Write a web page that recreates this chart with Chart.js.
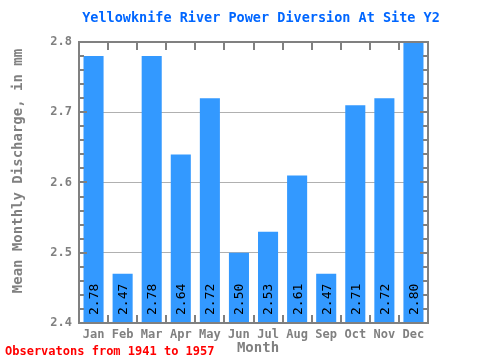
<!DOCTYPE html>
<html>
<head>
<meta charset="utf-8">
<script src="https://cdn.jsdelivr.net/npm/chart.js@4/dist/chart.umd.min.js"></script>
<style>
html,body{margin:0;padding:0;background:#fff;}
#wrap{width:480px;height:360px;position:relative;}
</style>
</head>
<body>
<div id="wrap"><canvas id="c" width="480" height="360"></canvas></div>
<script>
const months = ["Jan","Feb","Mar","Apr","May","Jun","Jul","Aug","Sep","Oct","Nov","Dec"];
const discharge = [2.78,2.47,2.78,2.64,2.72,2.50,2.53,2.61,2.47,2.71,2.72,2.80];
const yMin = 2.4, yMax = 2.8, yStep = 0.1, yMinorStep = 0.02;
const titleText = "Yellowknife River Power Diversion At Site Y2";
const yTitle = "Mean Monthly Discharge, in mm";
const xTitle = "Month";
const footText = "Observatons from 1941 to 1957";

const MONO = "'DejaVu Sans Mono', 'Liberation Mono', monospace";
const FRAME = "#808080";

const framePlugin = {
  id: 'framePlugin',
  afterDatasetsDraw(chart) {
    const ctx = chart.ctx;
    const a = chart.chartArea;
    const ys = chart.scales.y;
    // value labels
    const meta = chart.getDatasetMeta(0);
    ctx.save();
    ctx.fillStyle = "#000";
    ctx.font = "13px " + MONO;
    ctx.textAlign = "left";
    ctx.textBaseline = "middle";
    meta.data.forEach((bar, i) => {
      ctx.save();
      ctx.translate(bar.x + 1, a.bottom - 8);
      ctx.rotate(-Math.PI / 2);
      ctx.fillText(discharge[i].toFixed(2), 0, 0);
      ctx.restore();
    });
    ctx.restore();

    // frame
    ctx.save();
    ctx.strokeStyle = FRAME;
    ctx.fillStyle = FRAME;
    ctx.lineWidth = 2;
    ctx.strokeRect(a.left, a.top, a.right - a.left, a.bottom - a.top);
    const nMinor = Math.round((yMax - yMin) / yMinorStep);
    for (let k = 0; k <= nMinor; k++) {
      const v = yMin + k * yMinorStep;
      const py = Math.round(ys.getPixelForValue(v));
      const len = (k % 5 === 0) ? 8 : 5;
      ctx.fillRect(a.left, py - 1, len, 2);
      ctx.fillRect(a.right - len, py - 1, len, 2);
    }
    const cw = (a.right - a.left) / months.length;
    for (let i = 1; i < months.length; i++) {
      const px = Math.round(a.left + i * cw);
      ctx.fillRect(px - 1, a.top, 2, 8);
      ctx.fillRect(px - 1, a.bottom - 8, 2, 8);
    }
    ctx.restore();
  },
  afterDraw(chart) {
    const ctx = chart.ctx;
    ctx.save();
    ctx.fillStyle = "#0066ff";
    ctx.font = "bold 13.5px " + MONO;
    ctx.textAlign = "center";
    ctx.textBaseline = "middle";
    ctx.fillText(titleText, 261, 18);
    ctx.fillStyle = FRAME;
    ctx.font = "bold 14px " + MONO;
    ctx.save();
    ctx.translate(18, 171);
    ctx.rotate(-Math.PI / 2);
    ctx.fillText(yTitle, 0, 0);
    ctx.restore();
    ctx.fillText(xTitle, 258, 348);
    ctx.fillStyle = "#ff0000";
    ctx.font = "bold 12px " + MONO;
    ctx.textAlign = "left";
    ctx.fillText(footText, 5, 352);
    ctx.restore();
  }
};

new Chart(document.getElementById('c'), {
  type: 'bar',
  data: {
    labels: months,
    datasets: [{
      data: discharge,
      backgroundColor: "#3399ff",
      borderWidth: 0,
      barPercentage: 0.69,
      categoryPercentage: 1.0
    }]
  },
  options: {
    responsive: false,
    animation: false,
    devicePixelRatio: 1,
    layout: { padding: { top: 42, right: 52, bottom: 0, left: 0 } },
    plugins: { legend: { display: false }, title: { display: false }, tooltip: { enabled: false } },
    scales: {
      x: {
        grid: { display: false, drawTicks: false },
        border: { display: false },
        ticks: { color: FRAME, font: { family: MONO, size: 12, weight: 'bold' }, padding: 5, maxRotation: 0 },
        afterFit(s) { s.height = 37; }
      },
      y: {
        min: yMin, max: yMax,
        grid: {
          drawTicks: false,
          color: (c) => (c.tick && (Math.abs(c.tick.value - yMin) < 1e-6 || Math.abs(c.tick.value - yMax) < 1e-6)) ? 'rgba(0,0,0,0)' : '#b0b0b0',
          lineWidth: 1
        },
        border: { display: false },
        ticks: {
          stepSize: yStep,
          color: FRAME,
          font: { family: MONO, size: 12, weight: 'bold' },
          padding: 7,
          callback: (v) => Number(v).toFixed(1)
        },
        afterFit(s) { s.width = 79; }
      }
    }
  },
  plugins: [framePlugin]
});
</script>
</body>
</html>
